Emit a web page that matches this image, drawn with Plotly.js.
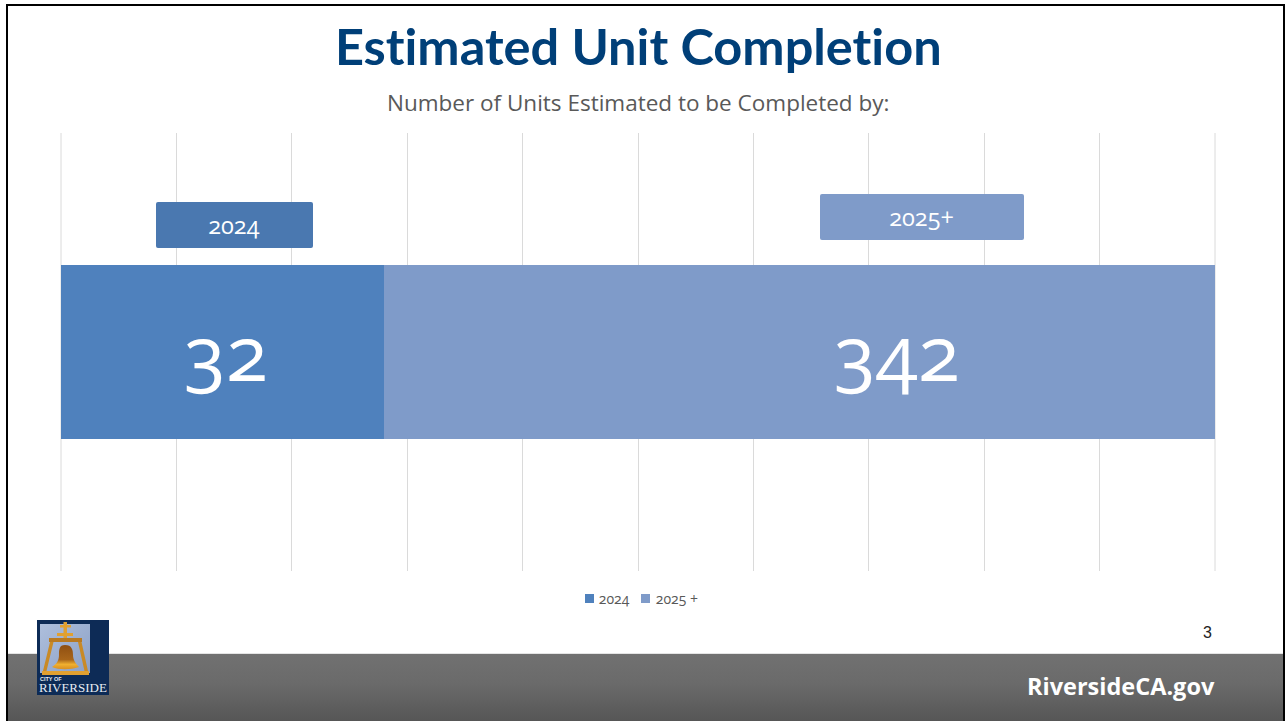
<!DOCTYPE html>
<html>
<head>
<meta charset="utf-8">
<script src="https://cdn.plot.ly/plotly-3.0.1.min.js"></script>
<style>
html,body{margin:0;padding:0;background:#fff;width:1286px;height:721px;overflow:hidden}
#frame{position:absolute;left:6px;top:4px;width:1275px;height:717px;border:solid #000;border-width:2.5px 2.5px 0 2.5px;box-sizing:content-box}
#band{position:absolute;left:8px;top:653px;width:1275px;height:68px;background:linear-gradient(#717171,#6a6a6a 45%,#565656);border-top:1px solid #e4e4e4;box-sizing:border-box}
#chart{position:absolute;left:0;top:0;width:1286px;height:721px}
#chart text{font-variant-numeric:oldstyle-nums;font-feature-settings:"onum" 1,"liga" 0;font-variant-ligatures:none}
</style>
</head>
<body>
<div id="frame"></div>
<div id="band"></div>
<div id="chart"></div>
<script>
const category = ["Units"];
const seriesNames = ["2024", "2025 +"];
const barShare = [28, 72];
const barLabels = ["32", "342"];
const barLabelCentres = [14.3, 72.4];
const calloutLabels = ["2024", "2025+"];
const calloutCentres = [15.03, 74.6];
const gridEdges = [0, 100];
const seriesColors = ["#4F81BD", "#7F9BC9"];
const calloutColors = ["#4A78B0", "#7F9BC9"];

const titleText = "Estimated Unit Completion";
const subtitleText = "Number of Units Estimated to be Completed by:";
const siteText = "RiversideCA.gov";
const pageNumber = "3";

const L = 61, R = 1215, T = 133, B = 571;
const px = x => (x - L) / (R - L);
const py = y => (B - y) / (B - T);
const BODY = '"Open Sans", sans-serif';
const GRID = "#DADADA";

const traces = seriesNames.map((name, i) => ({
  type: "bar",
  orientation: "h",
  name: name,
  y: category,
  x: [barShare[i]],
  marker: {color: seriesColors[i], line: {width: 0}},
  hoverinfo: "skip"
}));

const note = (text, x, y, size, color, family, extra) => Object.assign({
  text: text, xref: "paper", yref: "paper", x: px(x), y: py(y),
  xanchor: "center", yanchor: "middle", showarrow: false,
  font: {family: family, size: size, color: color}
}, extra || {});

const annotations = [
  note("<b>" + titleText + "</b>", 638, 45, 50.5, "#003F78", "Lato, sans-serif"),
  note(subtitleText, 638, 102, 22.5, "#595959", BODY),
  note("<b>" + siteText + "</b>", 1121, 686, 23.5, "#ffffff", BODY),
  note(pageNumber, 1207, 632, 16, "#222222", '"Liberation Sans", sans-serif'),
  note("<b>CITY OF</b>", 51, 679, 5.5, "#e6ebf2", '"Liberation Sans", sans-serif'),
  note("RIVERSIDE", 73, 687, 13, "#e6ebf2", '"Liberation Serif", serif')
];

barLabels.forEach((label, i) => {
  annotations.push({
    text: label, xref: "x", yref: "y", x: barLabelCentres[i], y: category[0],
    xanchor: "center", yanchor: "middle", showarrow: false, yshift: 1,
    font: {family: BODY, size: 77, color: "#ffffff"}
  });
});

const rounded = (x0, y0, x1, y1, r) => {
  const X = v => px(v), Y = v => py(v);
  return `M ${X(x0 + r)} ${Y(y0)} L ${X(x1 - r)} ${Y(y0)} Q ${X(x1)} ${Y(y0)} ${X(x1)} ${Y(y0 + r)} ` +
         `L ${X(x1)} ${Y(y1 - r)} Q ${X(x1)} ${Y(y1)} ${X(x1 - r)} ${Y(y1)} ` +
         `L ${X(x0 + r)} ${Y(y1)} Q ${X(x0)} ${Y(y1)} ${X(x0)} ${Y(y1 - r)} ` +
         `L ${X(x0)} ${Y(y0 + r)} Q ${X(x0)} ${Y(y0)} ${X(x0 + r)} ${Y(y0)} Z`;
};

const shapes = gridEdges.map(v => ({
  type: "line", xref: "paper", yref: "paper", x0: v / 100, x1: v / 100, y0: 0, y1: 1,
  line: {color: GRID, width: 1}, layer: "below"
}));

const boxes = [[156, 202, 313, 248], [820, 194, 1024, 240]];
calloutLabels.forEach((label, i) => {
  const b = boxes[i];
  shapes.push({type: "path", xref: "paper", yref: "paper", path: rounded(b[0], b[1], b[2], b[3], 2),
               fillcolor: calloutColors[i], line: {width: 0}, layer: "above"});
  annotations.push({
    text: label, xref: "x", yref: "paper",
    x: calloutCentres[i], y: py((b[1] + b[3]) / 2),
    xanchor: "center", yanchor: "middle", showarrow: false,
    font: {family: BODY, size: 23.5, color: "#ffffff"}
  });
});

// Legend keys and entries, laid out tightly as in the slide
const legendKeyX = [585, 641];
const legendTextX = [596, 653];
seriesNames.forEach((name, i) => {
  shapes.push({type: "rect", xref: "paper", yref: "paper",
               x0: px(legendKeyX[i]), x1: px(legendKeyX[i] + 9), y0: py(594), y1: py(603),
               fillcolor: seriesColors[i], line: {width: 0}});
  annotations.push({text: name, xref: "paper", yref: "paper", x: px(legendTextX[i]), y: py(598),
                    xanchor: "left", yanchor: "middle", showarrow: false,
                    font: {family: BODY, size: 14, color: "#595959"}});
});

const bell = `<svg xmlns="http://www.w3.org/2000/svg" width="288" height="300" viewBox="0 0 72 75">
<defs>
<linearGradient id="s" x1="0" y1="0" x2="1" y2="1"><stop offset="0" stop-color="#aebfdc"/><stop offset="1" stop-color="#8ba0c6"/></linearGradient>
<linearGradient id="g" x1="0" y1="0" x2="0" y2="1"><stop offset="0" stop-color="#8f4f12"/><stop offset=".6" stop-color="#a8651a"/><stop offset=".8" stop-color="#f0b030"/><stop offset="1" stop-color="#d98f20"/></linearGradient>
</defs>
<rect width="72" height="75" fill="#0D2B56"/>
<rect x="3" y="4" width="50" height="49" fill="url(#s)"/>
<g fill="#e1a030">
<rect x="26.5" y="2" width="3.5" height="16"/><rect x="23" y="5" width="11" height="2.5"/><rect x="20" y="13" width="16" height="3"/>
<rect x="12" y="18" width="33" height="4" fill="#b97a22"/>
<path d="M13 22h3.5L9.5 51H6zM41 22h3.5L51 51h-3.5z" fill="#c98a26"/>
<rect x="5" y="51" width="47" height="4"/>
</g>
<path d="M28 25c7 0 8 5 8 10 0 5 3 9 6 12-9 3-20 3-27 0 5-3 7-7 7-12 0-5 0-10 6-10z" fill="url(#g)"/>
</svg>`;

const layout = {
  width: 1286, height: 721,
  margin: {l: L, r: 1286 - R, t: T, b: 721 - B, pad: 0},
  paper_bgcolor: "rgba(0,0,0,0)",
  plot_bgcolor: "rgba(0,0,0,0)",
  barmode: "stack",
  bargap: 0.602,
  xaxis: {range: [0, 100], dtick: 10, tick0: 0, showgrid: true, gridcolor: GRID, gridwidth: 1,
          zeroline: false, showline: false, showticklabels: false, ticks: "", fixedrange: true},
  yaxis: {showgrid: false, zeroline: false, showline: false, showticklabels: false, ticks: "", fixedrange: true},
  showlegend: false,
  annotations: annotations,
  shapes: shapes,
  images: [{source: "data:image/svg+xml;base64," + btoa(bell), xref: "paper", yref: "paper",
            x: px(37), y: py(620), sizex: 72 / (R - L), sizey: 75 / (B - T),
            xanchor: "left", yanchor: "top", sizing: "stretch", layer: "below"}]
};

Plotly.newPlot("chart", traces, layout, {displayModeBar: false, staticPlot: true});
</script>
</body>
</html>
